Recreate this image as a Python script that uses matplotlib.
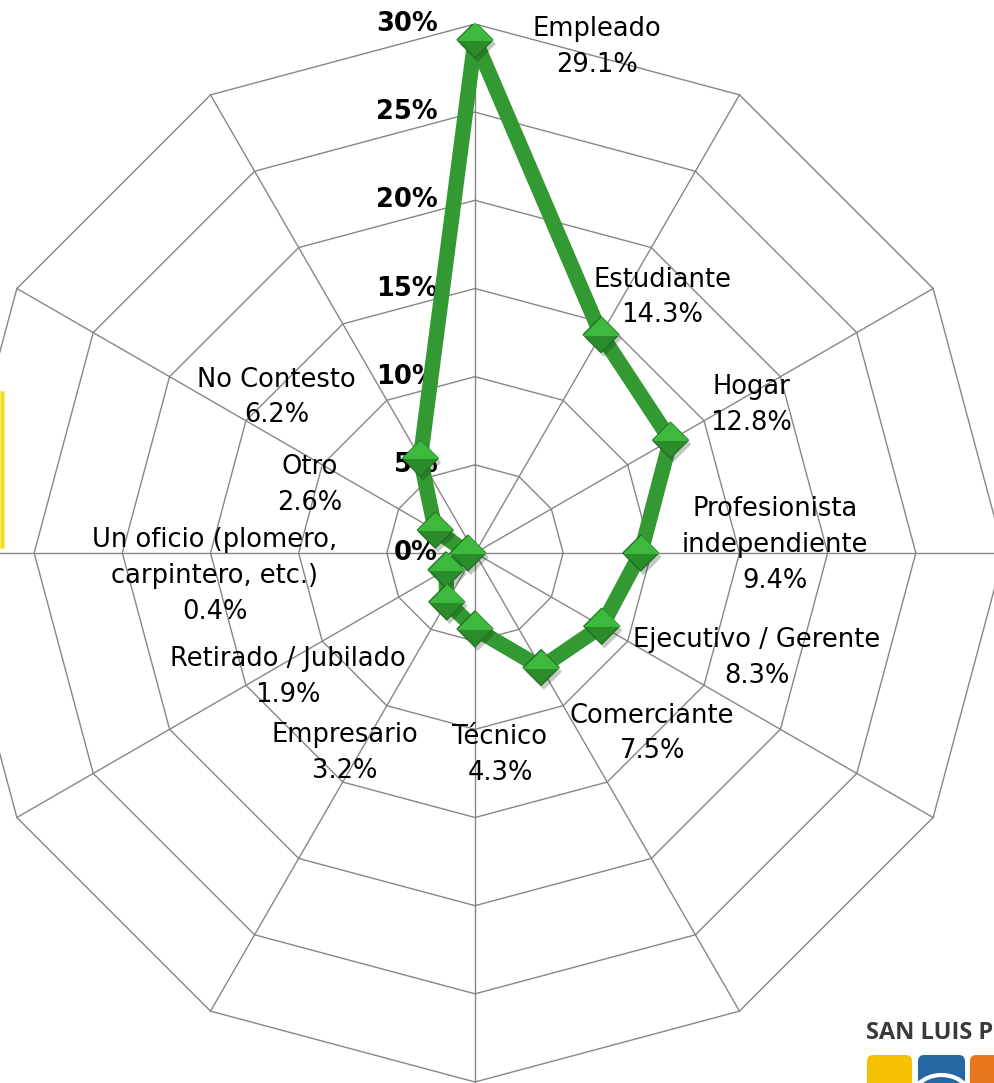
import numpy as np
import matplotlib
matplotlib.use('Agg')
import matplotlib.pyplot as plt
import matplotlib.patheffects as pe
from matplotlib.patches import Rectangle, FancyBboxPatch, Arc

# Data
categories = ['Empleado', 'Estudiante', 'Hogar', 'Profesionista\nindependiente',
              'Ejecutivo / Gerente', 'Comerciante', 'Técnico', 'Empresario',
              'Retirado / Jubilado', 'Un oficio (plomero,\ncarpintero, etc.)',
              'Otro', 'No Contesto']
values = [29.1, 14.3, 12.8, 9.4, 8.3, 7.5, 4.3, 3.2, 1.9, 0.4, 2.6, 6.2]
ticks = [0, 5, 10, 15, 20, 25, 30]
tick_labels = ['0%', '5%', '10%', '15%', '20%', '25%', '30%']

# label offsets from each point (pixels, x right / y up)
label_offsets = [(122, -7), (61, 37), (81, 35), (134, 8), (155, -32), (111, -66),
                 (25, -126), (-102, -151), (-158, -107), (-253, -23),
                 (-126, 45), (-144, 61)]

W, H = 994, 1083
fig = plt.figure(figsize=(W / 100, H / 100), dpi=100)
fig.patch.set_facecolor('white')

cx, cy, R = 475, 1083 - 553, 529
ax = fig.add_axes([(cx - R) / W, (cy - R) / H, 2 * R / W, 2 * R / H], projection='polar')
ax.set_theta_zero_location('N')
ax.set_theta_direction(-1)
ax.set_ylim(0, 30)
ax.grid(False)
ax.set_xticks([])
ax.set_yticks([])
ax.spines['polar'].set_visible(False)
ax.patch.set_alpha(0)

n = len(categories)
theta = np.arange(n) * 2 * np.pi / n
theta_c = np.append(theta, theta[0])

# polygon web
grid_col = '#868686'
for r in ticks[1:]:
    ax.plot(theta_c, [r] * (n + 1), color=grid_col, lw=1.0, zorder=1, clip_on=False)
for t in theta:
    ax.plot([t, t], [0, 30], color=grid_col, lw=1.0, zorder=1, clip_on=False)

# axis labels
for r, lab in zip(ticks, tick_labels):
    ax.annotate(lab, xy=(0, r), xytext=(-37, 0), textcoords='offset pixels',
                ha='right', va='center', fontsize=18.5, fontweight='bold',
                color='black', zorder=2, annotation_clip=False)

# series
vals_c = values + values[:1]
ax.plot(theta_c, vals_c, color='#339933', lw=11, solid_joinstyle='round', zorder=3)
diamond = [(0, 1), (1, 0), (0, -1), (-1, 0), (0, 1)]
top_half = [(-1, 0), (0, 1), (1, 0), (-1, 0)]
shadow = [pe.SimplePatchShadow(offset=(2, -3), alpha=0.25), pe.Normal()]
ax.plot(theta, values, ls='none', marker=diamond, ms=26, mfc='#2a8c2a',
        mec='#1e6e1e', mew=0.8, zorder=4, path_effects=shadow)
ax.plot(theta, values, ls='none', marker=top_half, ms=26, mfc='#3dba3d',
        mec='none', zorder=5)

# data labels
for t, v, name, off in zip(theta, values, categories, label_offsets):
    ax.annotate(f'{name}\n{v:.1f}%', xy=(t, v), xytext=off, textcoords='offset pixels',
                ha='center', va='center', ma='center', fontsize=18.5, color='black',
                linespacing=1.48, zorder=6, annotation_clip=False)

# slide decorations (yellow box edge, logo)
fig.patches.append(Rectangle((0, (H - 548) / H), 4 / W, 157 / H, transform=fig.transFigure,
                             facecolor='#f2df1c', edgecolor='#f7ea6a', lw=0.8))
fig.text(866 / W, (H - 1039) / H, 'SAN LUIS P', fontsize=17, fontweight='bold',
         family='Open Sans', color='#3a3a3a', ha='left', va='baseline')
for x0, x1, col in [(867, 912, '#f5c000'), (918, 965, '#2467a3'), (970, 1010, '#e8761e')]:
    fig.patches.append(FancyBboxPatch((x0 / W, (H - 1090) / H), (x1 - x0) / W, 35 / H,
                                      boxstyle='round,pad=0,rounding_size=0.006',
                                      transform=fig.transFigure, facecolor=col,
                                      edgecolor='none'))
fig.patches.append(Arc((941.5 / W, (H - 1100) / H), 60 / W, 50 / H, theta1=30, theta2=150,
                       transform=fig.transFigure, color='white', lw=3))

fig.savefig('out.png', dpi=100)
